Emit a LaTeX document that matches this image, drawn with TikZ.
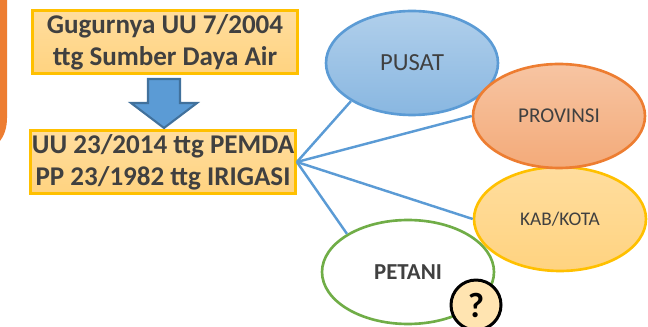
\documentclass[tikz,border=0pt]{standalone}
\usepackage{fontspec}
\setmainfont{Carlito}
\usetikzlibrary{shapes.geometric}
\definecolor{txtgrey}{HTML}{404040}
\definecolor{barblue}{HTML}{5B9BD5}
\definecolor{arrowedge}{HTML}{41719C}
\definecolor{barorange}{HTML}{ED7D31}
\definecolor{baryellow}{HTML}{FFC000}
\definecolor{bargreen}{HTML}{70AD47}
\definecolor{softtop}{HTML}{FFDD9E}
\definecolor{softbot}{HTML}{FFD380}
\tikzset{
	titlebox/.style={draw=baryellow, line width=1.6pt, top color=softtop, bottom color=softbot, minimum width=5.3cm, minimum height=1.25cm, align=center, inner sep=0pt, text=txtgrey, font=\fontsize{15.4}{18}\selectfont\bfseries},
	actor/.style={ellipse, line width=1.5pt, minimum width=3.44cm, minimum height=2.08cm, inner sep=0pt, text=txtgrey},
	link/.style={barblue, line width=1.4pt}
}
\begin{document}
\begin{tikzpicture}[x=0.02cm, y=-0.02cm]
	\useasboundingbox (0, 0) rectangle (648, 327);
	\fill[barorange] (0, 0) -- (7, 0) -- (7, 118) .. controls (7, 128) and (4, 136) .. (0, 141) -- cycle;
	% boxes on the left
	\node[titlebox] at (165, 42) (gugur) {Gugurnya UU 7/2004\\ttg Sumber Daya Air};
	\node[titlebox] at (163, 162) (pemda) {UU 23/2014 ttg PEMDA\\PP 23/1982 ttg IRIGASI};
	\draw[arrowedge, fill=barblue, line width=1.2pt] (148, 79) -- (180, 79) -- (180, 103) -- (197, 103) -- (164, 128) -- (131, 103) -- (148, 103) -- cycle;
	% ellipses on the right
	\node[actor, draw=barblue, top color=barblue!48!white, bottom color=barblue!72!white, font=\fontsize{14}{16}\selectfont] at (412, 63) (pusat) {PUSAT};
	\node[actor, draw=bargreen, fill=white, font=\fontsize{13}{16}\selectfont\bfseries] at (408, 272) (petani) {PETANI};
	\node[actor, draw=baryellow, top color=softtop, bottom color=softbot, font=\fontsize{11}{14}\selectfont] at (560, 219) (kab) {KAB/KOTA};
	\node[actor, draw=barorange, top color=barorange!45!white, bottom color=barorange!65!white, font=\fontsize{12}{14}\selectfont] at (559, 116) (prov) {PROVINSI};
	\node[circle, draw=black, line width=1.7pt, fill=softtop!80!white, minimum size=1cm, inner sep=0pt, font=\fontsize{20}{22}\selectfont\bfseries] at (476, 305) (tanya) {?};
	\draw[link] (pemda.east) -- (pusat.212);
	\draw[link] (pemda.east) -- (prov.west);
	\draw[link] (pemda.east) -- (kab.west);
	\draw[link] (pemda.east) -- (petani.148);
\end{tikzpicture}
\end{document}
